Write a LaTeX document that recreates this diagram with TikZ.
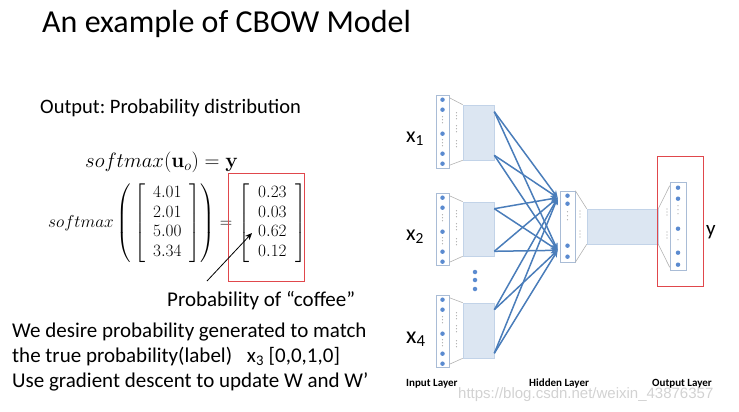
\documentclass[tikz,border=0pt]{standalone}
\usepackage{amsmath,amssymb}
\usepackage[no-math]{fontspec}
\setmainfont{Carlito}
\newfontfamily\wmfont{Liberation Sans}
\usetikzlibrary{arrows.meta,calc}
\frenchspacing

\definecolor{linkblue}{HTML}{4A7DBA}
\definecolor{unitblue}{HTML}{5B8BD0}
\definecolor{projfill}{HTML}{DCE6F2}
\definecolor{projline}{HTML}{C2D3E8}
\definecolor{vecline}{HTML}{A9BCD6}
\definecolor{boxred}{HTML}{E0474C}

\tikzset{
  txt/.style={inner sep=0pt, anchor=base west},
  vecbox/.style={draw=vecline, fill=white, line width=0.6pt, inner sep=0pt},
  projbox/.style={draw=projline, fill=projfill, line width=0.6pt, inner sep=0pt},
  unit/.style={circle, fill=unitblue, inner sep=0pt, minimum size=4.5pt},
  tinydot/.style={circle, fill=gray!70, inner sep=0pt, minimum size=1.2pt},
  edge/.style={draw=linkblue, line width=1.5pt, -{Stealth[length=7pt,width=6pt]}},
  side/.style={draw=gray!60, line width=0.6pt},
  redframe/.style={draw=boxred, line width=1pt, inner sep=0pt},
  lbl/.style={txt, font=\bfseries\fontsize{11}{13}\selectfont},
  mat/.style={anchor=west, inner sep=0pt, font=\fontsize{16.5}{19.8}\selectfont},
}

\begin{document}
\begin{tikzpicture}[x=1pt,y=-1pt]
  \useasboundingbox (0,0) rectangle (739,412);

  \node[txt, font=\fontsize{32}{38}\selectfont] (title) at (42,33) {An example of CBOW Model};
  \node[txt, font=\fontsize{20.5}{24}\selectfont] (outtxt) at (40,113) {Output: Probability distribution};
  \node[txt, font=\fontsize{22}{26}\selectfont] (eq) at (85,167) {$softmax(\mathbf{u}_o)=\mathbf{y}$};

  \node[mat] (lhs) at (48,223)
    {\arraycolsep=8pt$softmax\left(\,\left[\begin{array}{c}4.01\\2.01\\5.00\\3.34\end{array}\right]\right)=$};
  \node[mat] (rhs) at (238,223)
    {\arraycolsep=9pt$\left[\begin{array}{c}0.23\\0.03\\0.62\\0.12\end{array}\right]$};
  \node[redframe, minimum width=76pt, minimum height=108pt] (redbox) at (266,227) {};

  \coordinate (ptail) at (207,281);
  \coordinate (phead) at (252,233);
  \draw[-{Stealth[length=7pt,width=6pt]}, line width=0.8pt] (ptail) -- (phead);
  \node[txt, font=\fontsize{21}{25}\selectfont] (prob) at (167,306) {Probability of “coffee”};

  \node[txt, font=\fontsize{21}{25}\selectfont] (l1) at (12,337) {We desire probability generated to match};
  \node[txt, font=\fontsize{21}{25}\selectfont] (l2) at (12,362) {the true probability(label)\hspace{10pt} x\textsubscript{3} [0,0,1,0]};
  \node[txt, font=\fontsize{21}{25}\selectfont] (l3) at (12,387) {Use gradient descent to update W and W’};

  % input layer
  \node[vecbox, minimum width=13pt, minimum height=73pt] (v1) at (442.5,131.5) {};
  \node[vecbox, minimum width=13pt, minimum height=72pt] (v2) at (442.5,229) {};
  \node[vecbox, minimum width=13pt, minimum height=72pt] (v4) at (442.5,331) {};
  \node[projbox, minimum width=31pt, minimum height=55pt] (p1) at (478.5,132.5) {};
  \node[projbox, minimum width=31pt, minimum height=54pt] (p2) at (478.5,229) {};
  \node[projbox, minimum width=31pt, minimum height=55pt] (p4) at (478.5,330.5) {};
  \foreach \v/\p in {v1/p1,v2/p2,v4/p4} {
    \draw[side] ($(\v.north east)+(0,3)$) -- (\p.north west);
    \draw[side] ($(\v.south east)+(0,-3)$) -- (\p.south west);
    \foreach \o in {5,15,39,59,69}
      \node[unit] at ($(\v.north)+(0,\o)$) {};
    \foreach \o in {22,25,28,45,48,51}
      \node[tinydot] at ($(\v.north)+(0,\o)$) {};
    \foreach \o in {18,21,24,31,34,37,46,49,52}
      \node[tinydot] at ($(\v.north)+(14,\o)$) {};
  }
  \foreach \y [count=\i] in {272,280,289}
    \node[unit] (d\i) at (475,\y) {};

  \node[txt, font=\fontsize{22}{26}\selectfont] (x1) at (406,142) {x\textsubscript{1}};
  \node[txt, font=\fontsize{22}{26}\selectfont] (x2) at (406,240) {x\textsubscript{2}};
  \node[txt, font=\fontsize{24}{28}\selectfont] (x4) at (406,343) {x\textsubscript{4}};

  % hidden layer
  \node[vecbox, minimum width=15pt, minimum height=71pt] (h) at (567.5,226.5) {};
  \node[projbox, minimum width=71pt, minimum height=35pt] (w) at (622.5,226.5) {};
  \draw[side] (h.north east) -- (w.north west);
  \draw[side] (h.south east) -- (w.south west);
  \foreach \o in {5,13,55,66}
    \node[unit] at ($(h.north)+(0,\o)$) {};
  \foreach \o in {21,25,29}
    \node[tinydot] at ($(h.north)+(0,\o)$) {};
  \foreach \y in {211,214,217,231,234,237}
    \node[tinydot] at (580,\y) {};

  \coordinate (t1) at ($(h.north west)+(-2,7)$);
  \coordinate (t2) at ($(h.south west)+(-2,-12)$);
  \foreach \p in {p1,p2,p4}
    \foreach \t in {t1,t2} {
      \draw[edge] ($(\p.north east)+(0,7)$) -- (\t);
      \draw[edge] ($(\p.south east)+(0,-5)$) -- (\t);
    }

  % output layer
  \node[vecbox, minimum width=16pt, minimum height=88pt] (o) at (678,226) {};
  \draw[side] (w.north east) -- ($(o.north west)+(0,4)$);
  \draw[side] (w.south east) -- ($(o.south west)+(0,-3)$);
  \foreach \o in {6,17,47,71,83}
    \node[unit] at ($(o.north)+(0,\o)$) {};
  \foreach \o in {24,28,32,58}
    \node[tinydot] at ($(o.north)+(0,\o)$) {};
  \foreach \y in {209,212,215,232,235,238}
    \node[tinydot] at (667,\y) {};
  \node[redframe, minimum width=46pt, minimum height=130pt] (outbox) at (680,221) {};
  \node[txt, font=\fontsize{21}{24}\selectfont] (ylbl) at (706,235) {y};

  \node[lbl] (inlbl) at (406,386) {Input Layer};
  \node[lbl] (hidlbl) at (529,386) {Hidden Layer};
  \node[lbl] (outlbl) at (652,386) {Output Layer};
  \node[txt, font=\wmfont\fontsize{15}{18}\selectfont, text=gray!35] (wm) at (458,398) {https://blog.csdn.net/weixin\_43876357};
\end{tikzpicture}
\end{document}
